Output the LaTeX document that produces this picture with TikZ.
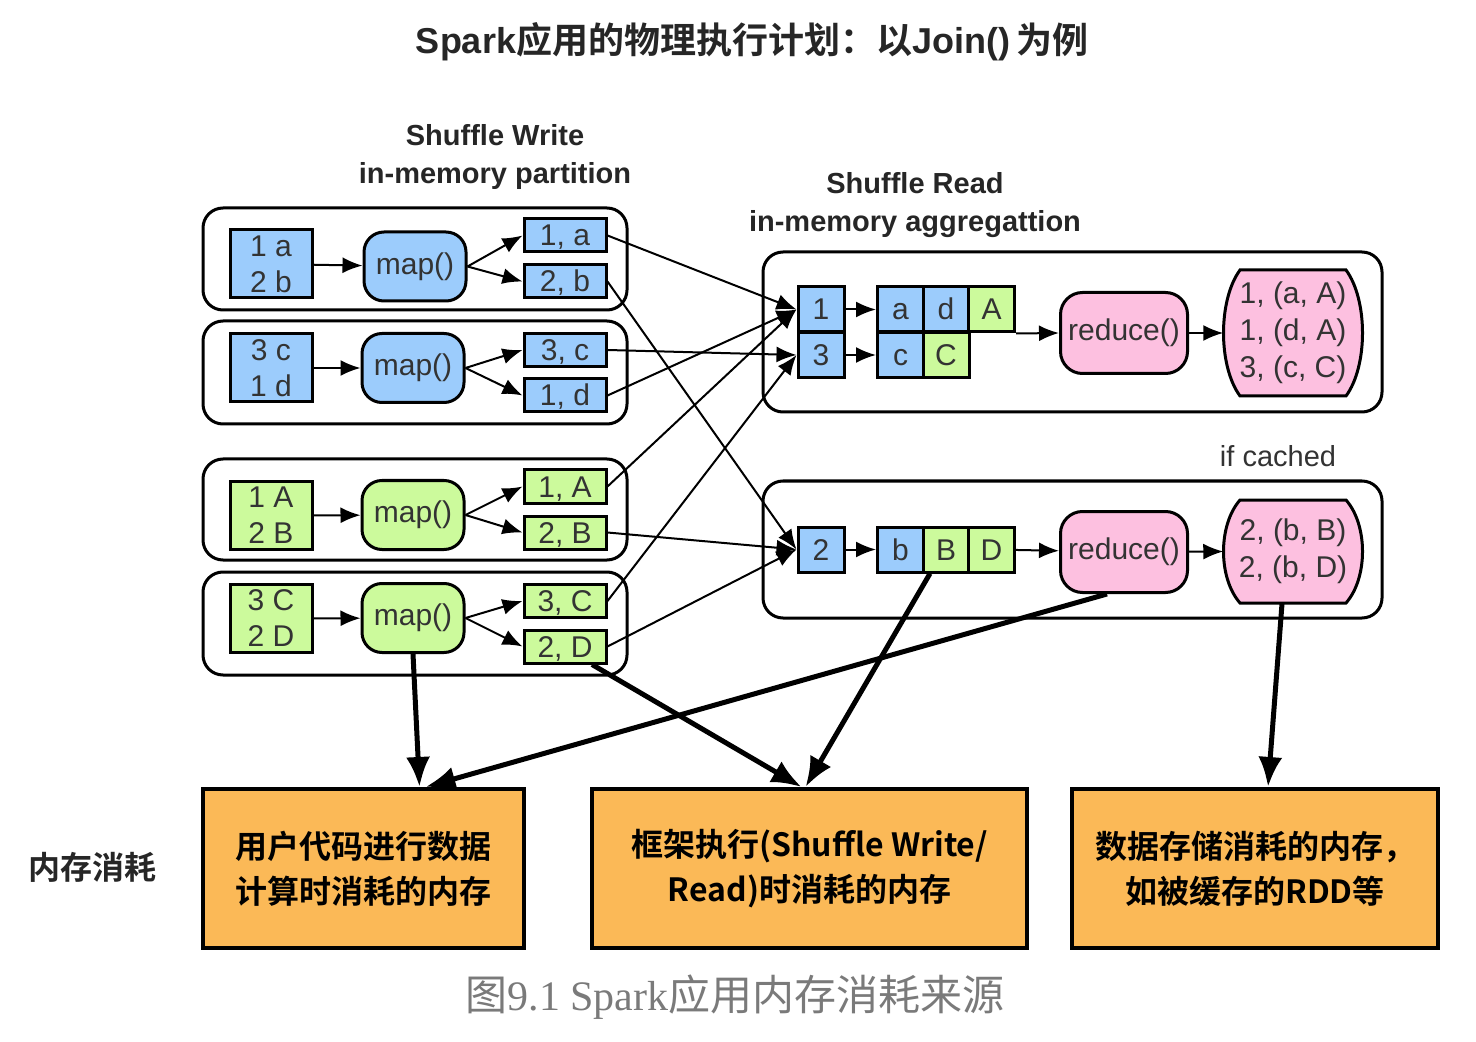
\documentclass[tikz,border=0pt]{standalone}
\usepackage{fontspec}
\setmainfont{Liberation Sans}
\newfontfamily\cjk{Noto Sans CJK SC}[BoldFont={Noto Sans CJK SC Bold}]
\newfontfamily\capserif{Liberation Serif}
\usetikzlibrary{arrows.meta}

\definecolor{keyblue}{HTML}{9CCCFC}
\definecolor{valgreen}{HTML}{CCFA9C}
\definecolor{redpink}{HTML}{FDC0E0}
\definecolor{memorange}{HTML}{FBB957}
\definecolor{txtgray}{HTML}{333333}
\definecolor{capgray}{HTML}{7A7A7A}

\tikzset{every picture/.style={line width=0.75pt}}
\tikzset{
  container/.style={line width=1.5pt, rounded corners=10pt},
  plainbox/.style={draw, line width=1.5pt, text=txtgray, inner sep=0pt, font=\fontsize{15}{18}\selectfont},
  inbox/.style={plainbox, minimum width=41pt, minimum height=34pt, align=center},
  outbox/.style={plainbox, minimum width=41pt, minimum height=16.5pt, text height=10.5pt, text depth=0pt},
  cell/.style={plainbox, minimum width=23pt, minimum height=22.5pt, text height=10.5pt, text depth=0pt},
  mapnode/.style={plainbox, rounded corners=10pt, minimum width=51pt, minimum height=34.5pt},
  reducenode/.style={plainbox, rounded corners=11pt, minimum width=63.5pt, minimum height=40.5pt, fill=redpink},
  resshape/.style={draw, line width=1.5pt, fill=redpink},
  restext/.style={text=txtgray, inner sep=0pt, align=center, minimum width=69pt, font=\fontsize{15}{18.5}\selectfont},
  link/.style={-{Latex[length=10pt,width=8pt]}, line width=1pt},
  heavy/.style={-{Latex[length=15pt,width=12pt]}, line width=2.5pt},
  membox/.style={draw, line width=2pt, fill=memorange, minimum height=79.5pt, align=center, font=\cjk\bfseries\fontsize{16}{22.5}\selectfont},
  heading/.style={text=black!85, align=center, font=\bfseries\fontsize{14.5}{19}\selectfont},
}

\begin{document}
\begin{tikzpicture}[x=0.5pt,y=0.5pt,yscale=-1,xscale=1]
\useasboundingbox (0,0) rectangle (1476,1042);

% Text Node
\node[font=\fontsize{18}{22}\selectfont, text=black!85] (title) at (752,42) {{\bfseries Spark}{\cjk\bfseries 应用的物理执行计划：以}{\bfseries Join()}\,{\cjk\bfseries 为例}};
% Text Node
\node[heading] (swlabel) at (495,157) {Shuffle Write\\in-memory partition};
% Text Node
\node[heading] (srlabel) at (915,205) {Shuffle Read\\in-memory aggregattion};
% Text Node
\node[text=txtgray, font=\fontsize{14.5}{18}\selectfont] (cachedlabel) at (1278,456) {if cached};

%Shape: Rounded Rect (write side)
\draw[container] (203,208) rectangle (627,310);
\draw[container] (203,321) rectangle (627,424);
\draw[container] (203,459) rectangle (627,560);
\draw[container] (203,572) rectangle (627,675);
%Shape: Rounded Rect (read side)
\draw[container] (763,252) rectangle (1382,412);
\draw[container] (763,481) rectangle (1382,618);

% first partition
\node[inbox, fill=keyblue] (in1) at (271,264) {1 a\\2 b};
\node[mapnode, fill=keyblue] (m1) at (415,266.5) {map()};
\node[outbox, fill=keyblue] (o1a) at (565,235.5) {1, a};
\node[outbox, fill=keyblue] (o2b) at (565,281.5) {2, b};
% second partition
\node[inbox, fill=keyblue] (in2) at (271,368) {3 c\\1 d};
\node[mapnode, fill=keyblue] (m2) at (413,368) {map()};
\node[outbox, fill=keyblue] (o3c) at (565,350) {3, c};
\node[outbox, fill=keyblue] (o1d) at (565,395.5) {1, d};
% third partition
\node[inbox, fill=valgreen] (in3) at (271,515.5) {1 A\\2 B};
\node[mapnode, fill=valgreen] (m3) at (413,515) {map()};
\node[outbox, fill=valgreen] (o1A) at (565,486.5) {1, A};
\node[outbox, fill=valgreen] (o2B) at (565,532.5) {2, B};
% fourth partition
\node[inbox, fill=valgreen] (in4) at (271,618.5) {3 C\\2 D};
\node[mapnode, fill=valgreen] (m4) at (413,618) {map()};
\node[outbox, fill=valgreen] (o3C) at (565,601) {3, C};
\node[outbox, fill=valgreen] (o2D) at (565,646.5) {2, D};

\foreach \i/\a/\b in {1/o1a/o2b, 2/o3c/o1d, 3/o1A/o2B, 4/o3C/o2D} {
  \draw[link] (in\i) -- (m\i);
  \draw[link] (m\i.east) -- (\a.west);
  \draw[link] (m\i.east) -- (\b.west);
}

% upper aggregation
\node[cell, fill=keyblue] (k1) at (821,309.5) {1};
\node[cell, fill=keyblue] (k3) at (821,355) {3};
\node[cell, fill=keyblue] (va) at (900.5,309.5) {a};
\node[cell, fill=keyblue] (vd) at (946,309.5) {d};
\node[cell, fill=valgreen] (vA) at (991.5,309.5) {A};
\node[cell, fill=keyblue] (vc) at (900.5,355) {c};
\node[cell, fill=valgreen] (vC) at (946,355) {C};
\node[reducenode] (r1) at (1124,333) {reduce()};
%Shape: Result
\draw[resshape] (1240,270) -- (1346,270) .. controls (1368,300) and (1368,366) .. (1346,396) -- (1240,396) .. controls (1218,366) and (1218,300) .. (1240,270) -- cycle;
\node[restext, minimum height=63pt] (res1) at (1293,333) {1, (a, A)\\1, (d, A)\\3, (c, C)};

% lower aggregation
\node[cell, fill=keyblue] (k2) at (821,549.5) {2};
\node[cell, fill=keyblue] (vb) at (900.5,549.5) {b};
\node[cell, fill=valgreen] (vB) at (946,549.5) {B};
\node[cell, fill=valgreen] (vD) at (991.5,549.5) {D};
\node[reducenode] (r2) at (1124,552) {reduce()};
%Shape: Result
\draw[resshape] (1240,500) -- (1346,500) .. controls (1368,525) and (1368,578) .. (1346,603) -- (1240,603) .. controls (1218,578) and (1218,525) .. (1240,500) -- cycle;
\node[restext, minimum height=51.5pt] (res2) at (1293,551.5) {2, (b, B)\\2, (b, D)};

\draw[link] (k1) -- (va);
\draw[link] (k3) -- (vc);
\draw[link] (vA.south east) -- (r1.west);
\draw[link] (r1) -- (res1.west);
\draw[link] (k2) -- (vb);
\draw[link] (vD) -- (r2);
\draw[link] (r2) -- (res2.west);

% shuffle
\draw[link] (o1a.east) -- (k1.west);
\draw[link] (o1d.east) -- (k1.west);
\draw[link] (o1A.east) -- (k1.west);
\draw[link] (o3c.east) -- (k3.west);
\draw[link] (o3C.east) -- (k3.west);
\draw[link] (o2b.east) -- (k2.west);
\draw[link] (o2B.east) -- (k2.west);
\draw[link] (o2D.east) -- (k2.west);

% memory consumers
\node[font=\cjk\bfseries\fontsize{16}{20}\selectfont, text=black!85] (memlabel) at (92,867) {内存消耗};
\node[membox, minimum width=160.5pt] (mem1) at (363.5,868.5) {用户代码进行数据\\计算时消耗的内存};
\node[membox, minimum width=217.5pt] (mem2) at (809.5,868.5) {框架执行(Shuffle Write/\\Read)时消耗的内存};
\node[membox, minimum width=183pt] (mem3) at (1255,868.5) {数据存储消耗的内存，\\如被缓存的RDD等};

\draw[heavy] (m4.south) -- ([xshift=28pt]mem1.north);
\draw[heavy] ([xshift=-8.5pt]r2.south) -- ([xshift=31pt]mem1.north);
\draw[heavy] ([xshift=13.5pt]o2D.south) -- ([xshift=-4pt]mem2.north);
\draw[heavy] ([xshift=-8pt]vB.south) -- ([xshift=-2pt]mem2.north);
\draw[heavy] ([xshift=-5.5pt]res2.south) -- ([xshift=6.5pt]mem3.north);

% Text Node
\node[text=capgray, font=\fontsize{21}{25}\selectfont] (caption) at (735,997) {{\cjk 图}{\capserif 9.1 Spark}{\cjk 应用内存消耗来源}};

\end{tikzpicture}
\end{document}
